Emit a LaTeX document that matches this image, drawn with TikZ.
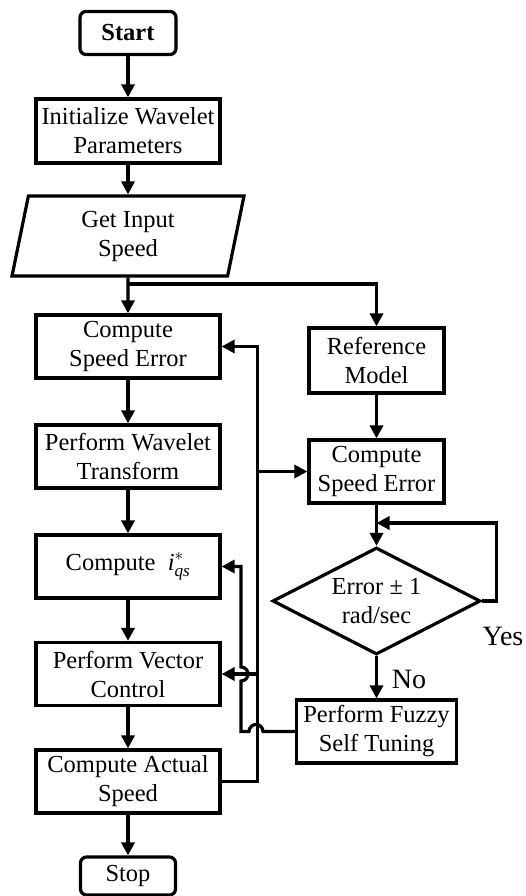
\documentclass[tikz,border=0pt]{standalone}
\usepackage{amsmath}
\usepackage{fontspec}
\setmainfont{Liberation Serif}
\usetikzlibrary{shapes.geometric,arrows.meta}

\begin{document}
\begin{tikzpicture}[x=1pt,y=1pt,line width=3.2pt,
  font=\fontsize{24.5}{29}\selectfont,
  arr/.style={-{Triangle[length=13pt,width=13pt]}},
  box/.style={draw,align=center,inner sep=1pt,minimum width=184,minimum height=63},
  rbox/.style={box,minimum width=135},
  term/.style={draw,rounded corners=6pt,align=center,inner sep=1pt,minimum width=96,minimum height=40}]
  \useasboundingbox (0,0) rectangle (526,-896);
  \node[term,font=\fontsize{24.5}{29}\selectfont\bfseries,minimum height=43] (start) at (128,-33) {Start};
  \node[box,minimum height=64] (init) at (128,-131) {Initialize Wavelet\\Parameters};
  \node[draw,trapezium,trapezium left angle=81.5,trapezium right angle=98.5,trapezium stretches=true,
        minimum width=232,minimum height=80,align=center,inner sep=1pt] (input) at (128,-236) {Get Input\\Speed};
  \node[box] (err1) at (128,-346.5) {Compute\\Speed Error};
  \node[box] (wav) at (128,-456.5) {Perform Wavelet\\Transform};
  \node[box] (iqs) at (128,-566.5) {Compute \ $\textit{i}_{\textit{qs}}^{*}$};
  \node[box] (vec) at (128,-674) {Perform Vector\\Control};
  \node[box] (act) at (128,-781.5) {Compute Actual\\Speed};
  \node[term,minimum width=95,minimum height=38] (stop) at (128,-876) {Stop};
  \node[rbox,minimum height=65] (ref) at (376.5,-360.5) {Reference\\Model};
  \node[rbox] (err2) at (376.5,-471.5) {Compute\\Speed Error};
  \node[draw,diamond,aspect=2,minimum width=208,minimum height=107,align=center,inner sep=0pt] (dec) at (376.5,-601) {Error ± 1\\rad/sec};
  \node[rbox,minimum width=160] (fuzzy) at (376.5,-731.5) {Perform Fuzzy\\Self Tuning};
  \node[font=\fontsize{28}{30}\selectfont] (yes) at (503,-636) {Yes};
  \node[font=\fontsize{28}{30}\selectfont] (no) at (409,-679) {No};
  \coordinate (split) at (128,-284);
  \coordinate (loop) at (376.5,-523);
  \coordinate (bus) at (256,-471.5);

  \draw[arr] (start) -- (init);
  \draw[arr] (init) -- (input);
  \draw[arr] (input) -- (err1);
  \draw[arr] (split) -| (ref);
  \draw[arr] (err1) -- (wav);
  \draw[arr] (wav) -- (iqs);
  \draw[arr] (iqs) -- (vec);
  \draw[arr] (vec) -- (act);
  \draw[arr] (act) -- (stop);
  \draw[arr] (ref) -- (err2);
  \draw[arr] (err2) -- (dec);
  \draw[arr] (dec.east) -- ++(14,0) |- (loop);
  \draw[arr] (dec) -- (fuzzy);
  \draw[arr] (act.east) -- ++(36,0) |- (err1.east);
  \draw[arr] (bus) -- (err2.west);
  \draw[arr] (vec.east -| bus) -- (vec.east);
  \draw[arr] (fuzzy.west) -- (263,-731.5) arc[start angle=0,end angle=180,radius=7]
    -- (241,-731.5) -- (241,-681) arc[start angle=-90,end angle=90,radius=7]
    -- (241,-566.5) -- (iqs.east);
\end{tikzpicture}
\end{document}
